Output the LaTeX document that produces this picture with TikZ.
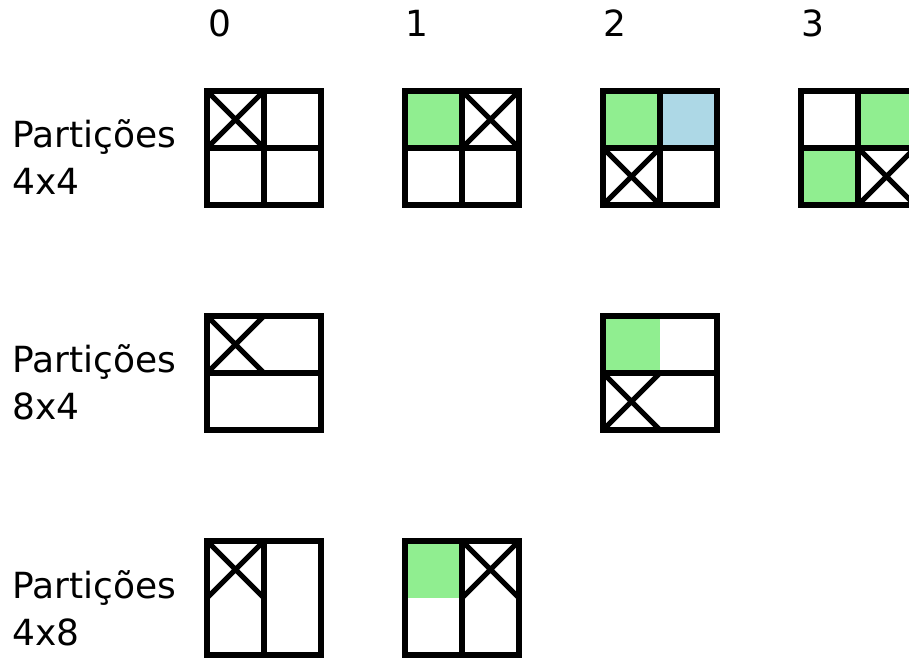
\documentclass[tikz,border=0pt]{standalone}
\usepackage{fontspec}
\setmainfont{DejaVu Sans}
\definecolor{lgreen}{HTML}{90EE90}
\definecolor{lblue}{HTML}{ADD8E6}
\begin{document}
\begin{tikzpicture}[x=1pt,y=-1pt,
  lbl/.style={inner sep=0pt, font=\fontsize{36}{44}\selectfont},
  frame/.style={line width=5.5pt, line join=miter},
  xline/.style={line width=5pt},
  gfill/.style={fill=lgreen},
  bfill/.style={fill=lblue},
  pics/xmark/.style={code={\draw[xline] (0,0) -- (57,57) (57,0) -- (0,57);}},
  pics/quad/.style={code={\draw[frame] (0,0) rectangle (114,114) (57,0) -- (57,114) (0,57) -- (114,57);}},
  pics/hsplit/.style={code={\draw[frame] (0,0) rectangle (114,114) (0,57) -- (114,57);}},
  pics/vsplit/.style={code={\draw[frame] (0,0) rectangle (114,114) (57,0) -- (57,114);}}
]
\useasboundingbox (0,0) rectangle (909,659);
\clip (0,0) rectangle (909,659);

% column labels
\node[lbl, anchor=base] (c0) at (220,36) {0};
\node[lbl, anchor=base] (c1) at (417,36) {1};
\node[lbl, anchor=base] (c2) at (615,36) {2};
\node[lbl, anchor=base] (c3) at (813,36) {3};

% row labels
\node[lbl, anchor=base west] (r1a) at (12,147) {Partições};
\node[lbl, anchor=base west] (r1b) at (12,194) {4x4};
\node[lbl, anchor=base west] (r2a) at (12,372) {Partições};
\node[lbl, anchor=base west] (r2b) at (12,419) {8x4};
\node[lbl, anchor=base west] (r3a) at (12,598) {Partições};
\node[lbl, anchor=base west] (r3b) at (12,645) {4x8};

% fills
\fill[gfill] (405,91) rectangle (462,148);
\fill[gfill] (603,91) rectangle (660,148);
\fill[bfill] (660,91) rectangle (717,148);
\fill[gfill] (858,91) rectangle (915,148);
\fill[gfill] (801,148) rectangle (858,205);
\fill[gfill] (603,316) rectangle (660,373);
\fill[gfill] (405,541) rectangle (462,598);

% crosses
\pic at (207,91) {xmark};
\pic at (462,91) {xmark};
\pic at (603,148) {xmark};
\pic at (858,148) {xmark};
\pic at (207,316) {xmark};
\pic at (603,373) {xmark};
\pic at (207,541) {xmark};
\pic at (462,541) {xmark};

% frames
\pic at (207,91) {quad};
\pic at (405,91) {quad};
\pic at (603,91) {quad};
\pic at (801,91) {quad};
\pic at (207,316) {hsplit};
\pic at (603,316) {hsplit};
\pic at (207,541) {vsplit};
\pic at (405,541) {vsplit};
\end{tikzpicture}
\end{document}
